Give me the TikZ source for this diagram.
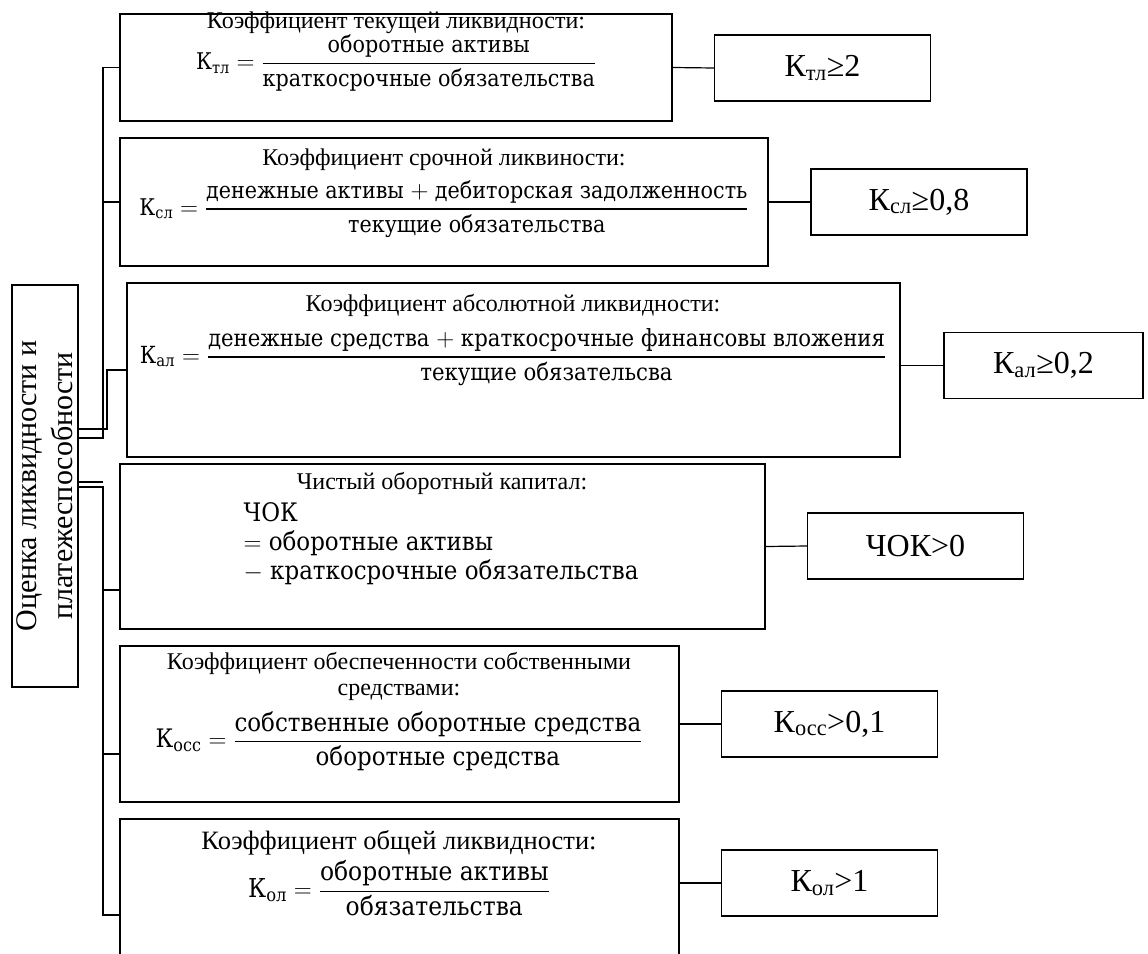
\documentclass[tikz,border=0pt]{standalone}
\usepackage{fontspec}
\usepackage{amsmath}
\usepackage{tikz}
\setmainfont{Liberation Serif}
\newfontfamily\formfont{DejaVu Serif Condensed}
\usetikzlibrary{positioning}

\newcommand{\kk}[1]{\text{К}_{\text{#1}}}
\newcommand{\ratio}[2]{\genfrac{}{}{1.1pt}{0}{\text{#1}}{\text{#2}}}

\tikzset{
  box/.style={draw, inner sep=0pt},
  normbox/.style={box, minimum width=216pt, minimum height=66pt, font=\fontsize{32}{36}\selectfont},
  ttl/.style={inner sep=0pt, align=center, font=\fontsize{24}{26}\selectfont},
  frm/.style={inner sep=0pt, font=\formfont\fontsize{23}{27}\selectfont},
  bigfrm/.style={frm, font=\formfont\fontsize{25.5}{29}\selectfont},
}

\begin{document}
\begin{tikzpicture}[x=1pt, y=-1pt, line width=1.2pt]
  \useasboundingbox (0,0) rectangle (1148,953);
  \clip (0,0) rectangle (1148,953);

  % main block
  \node[box, rotate=90, minimum width=402pt, minimum height=66pt, align=center,
        font=\fontsize{30}{36}\selectfont] (main) at (45,486)
        {Оценка ликвидности и\\платежеспособности};

  % formula boxes
  \node[box, minimum width=552pt, minimum height=107pt] (b1) at (396,67.5) {};
  \node[box, minimum width=648pt, minimum height=128pt] (b2) at (444,202) {};
  \node[box, minimum width=773pt, minimum height=174pt] (b3) at (513.5,370) {};
  \node[box, minimum width=645pt, minimum height=165pt] (b4) at (442.5,546.5) {};
  \node[box, minimum width=559pt, minimum height=156pt] (b5) at (399.5,724) {};
  \node[box, minimum width=559pt, minimum height=170pt] (b6) at (399.5,904) {};

  % titles
  \node[ttl] (t1) at (396,23) {Коэффициент текущей ликвидности:};
  \node[ttl] (t2) at (444,160) {Коэффициент срочной ликвиности:};
  \node[ttl] (t3) at (513,305) {Коэффициент абсолютной ликвидности:};
  \node[ttl] (t4) at (442,483) {Чистый оборотный капитал:};
  \node[ttl] (t5) at (399,676) {Коэффициент обеспеченности собственными\\средствами:};
  \node[ttl, font=\fontsize{26.5}{29}\selectfont] (t6) at (399,843) {Коэффициент общей ликвидности:};

  % formulas
  \node[frm] (f1) at (396,63) {$\kk{тл}=\ratio{оборотные активы}{краткосрочные обязательства}$};
  \node[frm] (f2) at (444,209) {$\kk{сл}=\ratio{денежные активы $+$ дебиторская задолженность}{текущие обязательства}$};
  \node[frm, font=\formfont\fontsize{23.6}{27}\selectfont] (f3) at (513,357)
        {$\kk{ал}=\ratio{денежные средства $+$ краткосрочные финансовы вложения}{текущие обязательсва}$};
  \node[bigfrm, anchor=west, align=left] (f4) at (243,544)
        {ЧОК\\$=$ оборотные активы\\$-$ краткосрочные обязательства};
  \node[bigfrm] (f5) at (399,741) {$\kk{осс}=\ratio{собственные оборотные средства}{оборотные средства}$};
  \node[bigfrm, font=\formfont\fontsize{26}{30}\selectfont] (f6) at (399,888)
        {$\kk{ол}=\ratio{оборотные активы}{обязательства}$};

  % norms
  \node[normbox] (n1) at (822.5,68) {К\textsubscript{тл}≥2};
  \node[normbox] (n2) at (919,202) {К\textsubscript{сл}≥0,8};
  \node[normbox, minimum width=199pt] (n3) at (1043.5,365.5) {К\textsubscript{ал}≥0,2};
  \node[normbox] (n4) at (915.5,546) {ЧОК>0};
  \node[normbox] (n5) at (829.5,724) {К\textsubscript{осс}>0,1};
  \node[normbox] (n6) at (829.5,883) {К\textsubscript{ол}>1};

  % links to norms
  \draw (b1.east) -- (n1.west);
  \draw (b2.east) -- (n2.west);
  \draw (n3.west) -- (n3.west -| b3.east);
  \draw (b4.east) -- (n4.west);
  \draw (b5.east) -- (n5.west);
  \draw (n6.west) -- (n6.west -| b6.east);

  % trunk
  \coordinate (tk) at (103,0);
  \coordinate (j1) at (103,438);
  \coordinate (j3) at (107,429);
  \coordinate (j4) at (103,482);
  \coordinate (j5) at (103,487);
  \draw (b1.west) -| (j1) -- (j1 -| main.south);
  \draw (b2.west) -- (b2.west -| tk);
  \draw (j3 -| main.south) -- (j3) |- (b3.west);
  \draw (j4 -| main.south) -- (j4);
  \draw (j5 -| main.south) -| (tk |- 0,915) -- (b6.west |- 0,915);
  \draw (tk |- 0,590) -- (b4.west |- 0,590);
  \draw (tk |- 0,754) -- (b5.west |- 0,754);
\end{tikzpicture}
\end{document}
